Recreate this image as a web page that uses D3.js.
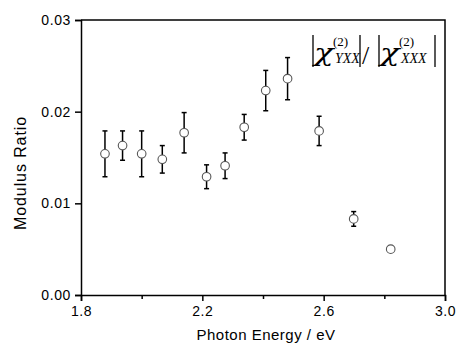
<!DOCTYPE html>
<html>
<head>
<meta charset="utf-8">
<script src="https://cdn.jsdelivr.net/npm/d3@7"></script>
<style>
  html, body { margin: 0; padding: 0; background: #fff; }
  svg { display: block; }
  .tick text { font-family: "Liberation Sans", Arial, sans-serif; font-size: 14px; letter-spacing: 0.6px; }
</style>
</head>
<body>
<svg id="chart" width="457" height="344"></svg>
<script>
// photon energy (eV), modulus ratio and its error
const energy = [1.879, 1.937, 2.000, 2.068, 2.140, 2.214, 2.275, 2.338, 2.409, 2.481, 2.585, 2.699, 2.821]
const ratio  = [0.0154, 0.0163, 0.0154, 0.0148, 0.0177, 0.0129, 0.0141, 0.0183, 0.0223, 0.0236, 0.0179, 0.0083, 0.0050]
const err    = [0.0025, 0.0016, 0.0025, 0.0015, 0.0022, 0.0013, 0.0014, 0.0014, 0.0022, 0.0023, 0.0016, 0.0008, 0.0001]
const xMajor = [1.8, 2.2, 2.6, 3.0]
const xMinor = [2.0, 2.4, 2.8]
const yTicks = [0.00, 0.01, 0.02, 0.03]

const margin = { top: 20, right: 12, bottom: 49, left: 81 }
const width = 457 - margin.left - margin.right
const height = 344 - margin.top - margin.bottom

const svg = d3.select('#chart')
const g = svg.append('g').attr('transform', `translate(${margin.left},${margin.top})`)

const x = d3.scaleLinear().domain([1.8, 3.0]).range([0, width])
const y = d3.scaleLinear().domain([0, 0.03]).range([height, 0])

const data = energy.map((e, i) => ({ e, r: ratio[i], s: err[i] }))

// frame (top and right)
g.append('path')
  .attr('d', `M0,0H${width}V${height}`)
  .attr('fill', 'none').attr('stroke', '#000').attr('stroke-width', 1.5)

// minor x ticks
g.append('g')
  .attr('transform', `translate(0,${height})`)
  .call(d3.axisBottom(x).tickValues(xMinor).tickSize(4).tickFormat(''))
  .call(a => a.select('.domain').remove())
  .call(a => a.selectAll('line').attr('stroke-width', 1.5))

g.append('g')
  .attr('transform', `translate(0,${height})`)
  .call(d3.axisBottom(x).tickValues(xMajor).tickSize(6).tickPadding(5).tickFormat(d3.format('.1f')))
  .call(a => a.select('.domain').attr('stroke-width', 1.5))
  .call(a => a.selectAll('line').attr('stroke-width', 1.5))
  .call(a => a.selectAll('text').attr('fill', '#000'))

g.append('g')
  .call(d3.axisLeft(y).tickValues(yTicks).tickSize(6).tickPadding(4).tickFormat(d3.format('.2f')))
  .call(a => a.select('.domain').attr('stroke-width', 1.5))
  .call(a => a.selectAll('line').attr('stroke-width', 1.5))
  .call(a => a.selectAll('text').attr('fill', '#000'))

// error bars
const eb = g.append('g').attr('stroke', '#000').attr('stroke-width', 1.5)
  .selectAll('g').data(data.filter(d => d.s > 0.0003)).join('g')
eb.append('line')
  .attr('x1', d => x(d.e)).attr('x2', d => x(d.e))
  .attr('y1', d => y(d.r + d.s)).attr('y2', d => y(d.r - d.s))
eb.append('line')
  .attr('x1', d => x(d.e) - 2.5).attr('x2', d => x(d.e) + 2.5)
  .attr('y1', d => y(d.r + d.s)).attr('y2', d => y(d.r + d.s))
eb.append('line')
  .attr('x1', d => x(d.e) - 2.5).attr('x2', d => x(d.e) + 2.5)
  .attr('y1', d => y(d.r - d.s)).attr('y2', d => y(d.r - d.s))

g.append('g').selectAll('circle').data(data).join('circle')
  .attr('cx', d => x(d.e)).attr('cy', d => y(d.r)).attr('r', 4.3)
  .attr('fill', '#fff').attr('stroke', '#555').attr('stroke-width', 1.1)

// axis titles
svg.append('text')
  .attr('x', margin.left + width / 2 + 3).attr('y', 340)
  .attr('text-anchor', 'middle')
  .style('font-family', '"Liberation Sans", Arial, sans-serif').style('font-size', '15px')
  .style('letter-spacing', '0.5px')
  .text('Photon Energy / eV')

svg.append('text')
  .attr('transform', 'translate(26,173) rotate(-90)')
  .attr('text-anchor', 'middle')
  .style('font-family', '"Liberation Sans", Arial, sans-serif').style('font-size', '16px')
  .style('letter-spacing', '0.9px')
  .text('Modulus Ratio')

// legend |chi_YXX^(2)| / |chi_XXX^(2)|
const lg = svg.append('g').style('font-family', '"DejaVu Serif", "Liberation Serif", serif')
const bar = (px) => lg.append('line').attr('x1', px).attr('x2', px).attr('y1', 35).attr('y2', 67)
  .attr('stroke', '#000').attr('stroke-width', 1.3)
const chi = (px, sub) => {
  lg.append('text').attr('x', px).attr('y', 61).attr('transform', `translate(${px},0) scale(1.35,1) translate(${-px},0)`)
    .style('font-size', '24px').style('font-style', 'italic').text('χ')
  lg.append('text').attr('x', px + 19).attr('y', 46).style('font-family', '"Liberation Serif", serif')
    .style('font-size', '13px').text('(2)')
  lg.append('text').attr('x', px + 21).attr('y', 63).style('font-family', '"Liberation Serif", serif')
    .style('font-size', '14px').style('font-style', 'italic').text(sub)
}
bar(313)
chi(314, 'YXX')
bar(360)
lg.append('text').attr('x', 362).attr('y', 64).style('font-family', '"Liberation Serif", serif')
  .style('font-size', '26px').text('/')
bar(379)
chi(380, 'XXX')
bar(435)
</script>
</body>
</html>
